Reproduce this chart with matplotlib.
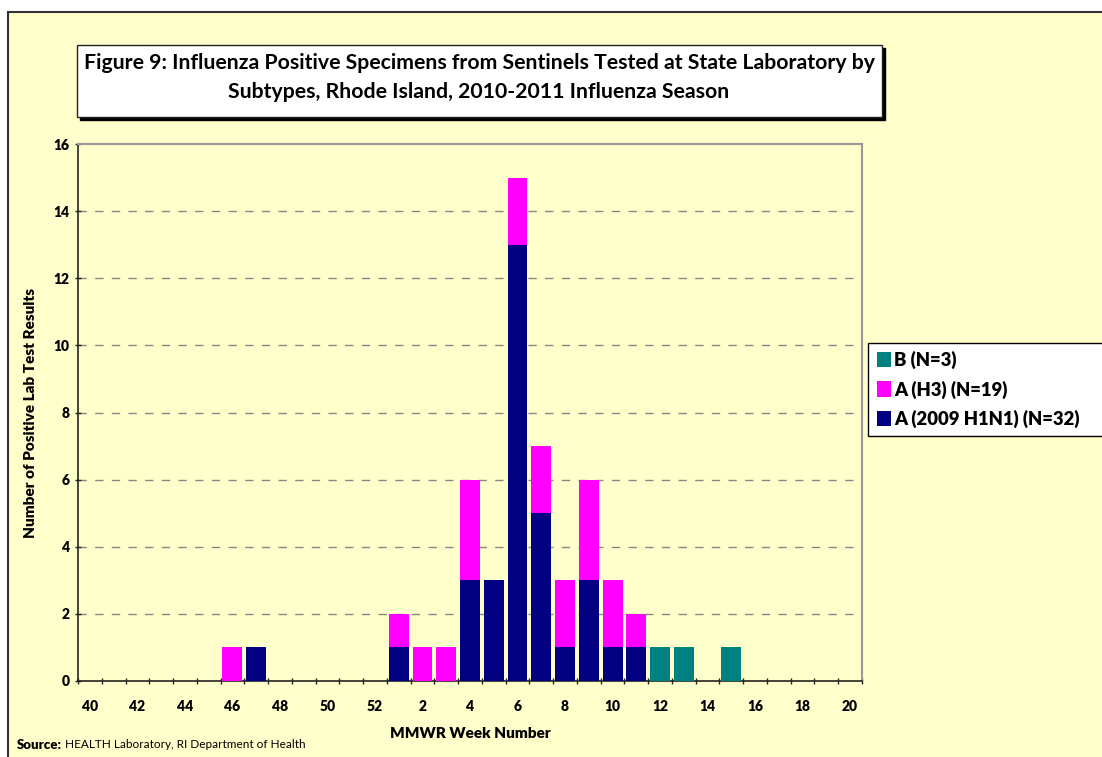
import numpy as np
import matplotlib
matplotlib.use('Agg')
import matplotlib.pyplot as plt
from matplotlib.patches import Rectangle, Patch

plt.rcParams['font.family'] = ['Lato', 'DejaVu Sans']

# MMWR weeks 40-52 of 2010, then 1-20 of 2011
weeks = list(range(40, 53)) + list(range(1, 21))
tick_labels = [str(w) if i % 2 == 0 else '' for i, w in enumerate(weeks)]

h1n1 = {47: 1, 1: 1, 4: 3, 5: 3, 6: 13, 7: 5, 8: 1, 9: 3, 10: 1, 11: 1}
h3 = {46: 1, 1: 1, 2: 1, 3: 1, 4: 3, 6: 2, 7: 2, 8: 2, 9: 3, 10: 2, 11: 1}
flu_b = {12: 1, 13: 1, 15: 1}

series_names = ['A (2009 H1N1) (N=32)', 'A (H3) (N=19)', 'B (N=3)']
series_colors = ['#000080', '#FF00FF', '#008080']

a_h1n1 = np.array([h1n1.get(w, 0) for w in weeks])
a_h3 = np.array([h3.get(w, 0) for w in weeks])
b = np.array([flu_b.get(w, 0) for w in weeks])

W, H = 1102, 757
fig = plt.figure(figsize=(W / 100, H / 100), dpi=100, facecolor='white')

# yellow background panel with dark frame
fig.patches.append(Rectangle((8 / W, -0.01), 1.0, 1 - 12 / H + 0.01, transform=fig.transFigure,
                             facecolor='#FFFFCC', edgecolor='#333333', lw=1.5, zorder=-5))

ax = fig.add_axes([78 / W, 1 - 681 / H, (862 - 78) / W, (681 - 144) / H])
ax.set_facecolor('#FFFFCC')

x = np.arange(len(weeks))
bw = 0.84
ax.bar(x, a_h1n1, bw, color=series_colors[0], zorder=3)
ax.bar(x, a_h3, bw, bottom=a_h1n1, color=series_colors[1], zorder=3)
ax.bar(x, b, bw, bottom=a_h1n1 + a_h3, color=series_colors[2], zorder=3)

ax.set_xlim(-0.5, len(weeks) - 0.5)
ax.set_ylim(0, 16)
ax.set_yticks(range(0, 17, 2))
ax.set_xticks(x)
ax.set_xticklabels(tick_labels, fontsize=10, fontweight='heavy')
ax.set_xticks(np.arange(-0.5, len(weeks), 1), minor=True)
ax.tick_params(axis='x', which='major', length=0, pad=14)
ax.tick_params(axis='x', which='minor', length=5, width=1, direction='inout', color='#222222')
ax.tick_params(axis='y', length=5, width=1, direction='inout', color='#222222', labelsize=10)
for t in ax.get_yticklabels():
    t.set_fontweight('heavy')

for y in range(2, 16, 2):
    ax.axhline(y, color='#888888', lw=1, ls=(0, (6, 6)), zorder=1)

for s in ['top', 'right']:
    ax.spines[s].set_color('#999999')
    ax.spines[s].set_linewidth(1.5)
for s in ['left', 'bottom']:
    ax.spines[s].set_color('#222222')
    ax.spines[s].set_linewidth(1.2)

ax.set_xlabel('MMWR Week Number', fontsize=11, fontweight='heavy', labelpad=10)
ax.set_ylabel('Number of Positive Lab Test Results', fontsize=11, fontweight='heavy', labelpad=12)

# title box with shadow
fig.patches.append(Rectangle((80 / W, 1 - 120 / H), (882 - 77) / W, (117 - 45) / H,
                             transform=fig.transFigure, facecolor='black', edgecolor='black', zorder=4))
fig.patches.append(Rectangle((77 / W, 1 - 117 / H), (882 - 77) / W, (117 - 45) / H,
                             transform=fig.transFigure, facecolor='white', edgecolor='#222222',
                             lw=1, zorder=5))
fig.text(479 / W, 1 - 77.5 / H,
         'Figure 9: Influenza Positive Specimens from Sentinels Tested at State Laboratory by\n'
         'Subtypes, Rhode Island, 2010-2011 Influenza Season',
         ha='center', va='center', fontsize=15.3, fontweight='bold', linespacing=1.55, zorder=6)

# legend box runs off the right edge of the figure
fig.patches.append(Rectangle((868 / W, 1 - 436 / H), 250 / W, (436 - 343) / H,
                             transform=fig.transFigure, facecolor='white', edgecolor='black',
                             lw=1, zorder=4))
handles = [Patch(facecolor=c, edgecolor='none') for c in series_colors]
leg = fig.legend(handles[::-1], series_names[::-1], loc='center left',
                 bbox_to_anchor=(867 / W, 1 - 389.5 / H), frameon=False,
                 handlelength=0.75, handleheight=0.9, handletextpad=0.15,
                 labelspacing=0.6, borderpad=0.55, borderaxespad=0,
                 prop={'weight': 'heavy', 'size': 13.3})
leg.set_zorder(6)

fig.text(17 / W, 1 - 745 / H, 'Source:', fontsize=9.5, fontweight='heavy', va='center')
fig.text(65 / W, 1 - 745 / H, 'HEALTH Laboratory, RI Department of Health', fontsize=8.5, va='center')

fig.savefig('out.png', dpi=100, facecolor=fig.get_facecolor())
